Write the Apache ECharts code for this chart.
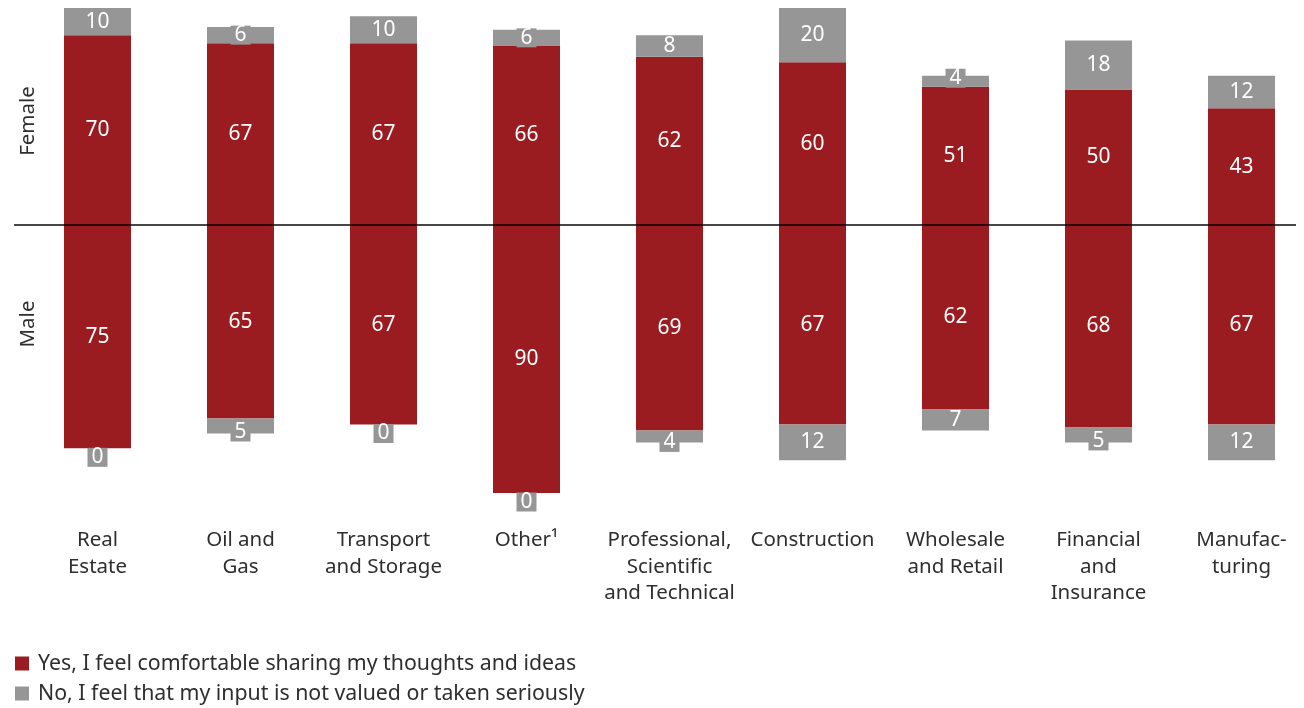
<!DOCTYPE html>
<html>
<head>
<meta charset="utf-8">
<title>Comfort sharing ideas by industry and gender</title>
<script src="https://cdn.jsdelivr.net/npm/echarts@6/dist/echarts.min.js"></script>
<style>
  html, body { margin: 0; padding: 0; background: #ffffff; }
  #chart { width: 1304px; height: 708px; }
</style>
</head>
<body>
<div id="chart"></div>
<script>
// Industries, in display order
const categories = [
  'Real\nEstate',
  'Oil and\nGas',
  'Transport\nand Storage',
  'Other\u00b9',
  'Professional,\nScientific\nand Technical',
  'Construction',
  'Wholesale\nand Retail',
  'Financial\nand\nInsurance',
  'Manufac-\nturing'
];

// Female respondents (%)
const femaleYes = [70, 67, 67, 66, 62, 60, 51, 50, 43];
const femaleNo  = [10,  6, 10,  6,  8, 20,  4, 18, 12];

// Male respondents (%)
const maleYes = [75, 65, 67, 90, 69, 67, 62, 68, 67];
const maleNo  = [ 0,  5,  0,  0,  4, 12,  7,  5, 12];

const seriesNames = [
  'Yes, I feel comfortable sharing my thoughts and ideas',
  'No, I feel that my input is not valued or taken seriously'
];

const RED = '#9a1c20';
const GRAY = '#969696';
const TEXT = '#2e2e2e';
const FONT = '"Noto Sans", "Open Sans", sans-serif';

const valueLabel = {
  show: true,
  position: 'inside',
  color: '#ffffff',
  fontFamily: FONT,
  fontSize: 21
};

const grayLabel = Object.assign({}, valueLabel, {
  backgroundColor: GRAY,
  padding: [0, 4],
  lineHeight: 19
});

// Small "No" segments get their tag nudged off the red bar
const femaleNoData = femaleNo.map(v => ({
  value: v,
  label: { offset: [0, v <= 5 ? -3 : 0] }
}));
const maleNoData = maleNo.map(v => ({
  value: v,
  label: { offset: [0, v === 0 ? 9 : (v <= 5 ? 6 : 0)] }
}));

const legendText = {
  color: TEXT, fontFamily: FONT, fontSize: 21.3, lineHeight: 21, padding: [0, 0, 0, 4]
};
const legendBase = {
  orient: 'vertical', left: 15, padding: 0,
  itemWidth: 14, itemHeight: 14,
  icon: 'rect', selectedMode: false,
  textStyle: legendText
};

const chart = echarts.init(document.getElementById('chart'), null, { renderer: 'canvas' });

chart.setOption({
  animation: false,
  backgroundColor: '#ffffff',
  textStyle: { fontFamily: FONT },
  grid: [
    { left: 26, width: 1287, top: 8, height: 217, outerBoundsMode: 'none' },
    { left: 26, width: 1287, top: 225, height: 268, outerBoundsMode: 'none' }
  ],
  xAxis: [
    {
      type: 'category', gridIndex: 0, data: categories,
      show: false
    },
    {
      type: 'category', gridIndex: 1, data: categories, position: 'bottom',
      axisLine: { show: false }, axisTick: { show: false },
      axisLabel: {
        interval: 0, margin: 34, hideOverlap: false,
        color: TEXT, fontFamily: FONT, fontSize: 20.5, lineHeight: 26.5,
        align: 'center'
      }
    }
  ],
  yAxis: [
    { type: 'value', gridIndex: 0, min: 0, max: 80, show: false, splitLine: { show: false } },
    { type: 'value', gridIndex: 1, min: 0, max: 90, inverse: true, show: false, splitLine: { show: false } }
  ],
  legend: [
    Object.assign({}, legendBase, { top: 653, data: [seriesNames[0]] }),
    Object.assign({}, legendBase, { top: 683, data: [seriesNames[1]] })
  ],
  series: [
    {
      name: seriesNames[0], type: 'bar', xAxisIndex: 0, yAxisIndex: 0, stack: 'female',
      barWidth: 67, data: femaleYes,
      itemStyle: { color: RED }, label: valueLabel
    },
    {
      name: seriesNames[1], type: 'bar', xAxisIndex: 0, yAxisIndex: 0, stack: 'female',
      barWidth: 67, data: femaleNoData,
      itemStyle: { color: GRAY }, label: grayLabel
    },
    {
      name: seriesNames[0], type: 'bar', xAxisIndex: 1, yAxisIndex: 1, stack: 'male',
      barWidth: 67, data: maleYes,
      itemStyle: { color: RED }, label: valueLabel
    },
    {
      name: seriesNames[1], type: 'bar', xAxisIndex: 1, yAxisIndex: 1, stack: 'male',
      barWidth: 67, data: maleNoData,
      itemStyle: { color: GRAY }, label: grayLabel
    }
  ],
  graphic: [
    // Baseline separating the female (top) and male (bottom) halves
    {
      type: 'line', z: 100,
      shape: { x1: 14, y1: 225, x2: 1296, y2: 225 },
      style: { stroke: 'rgba(0,0,0,0.72)', lineWidth: 2 }
    },
    {
      type: 'text', z: 100, x: 28, y: 121, rotation: Math.PI / 2,
      style: { text: 'Female', fill: TEXT, font: '20.5px ' + FONT, align: 'center', verticalAlign: 'middle' }
    },
    {
      type: 'text', z: 100, x: 28, y: 324, rotation: Math.PI / 2,
      style: { text: 'Male', fill: TEXT, font: '20.5px ' + FONT, align: 'center', verticalAlign: 'middle' }
    }
  ]
});
</script>
</body>
</html>
